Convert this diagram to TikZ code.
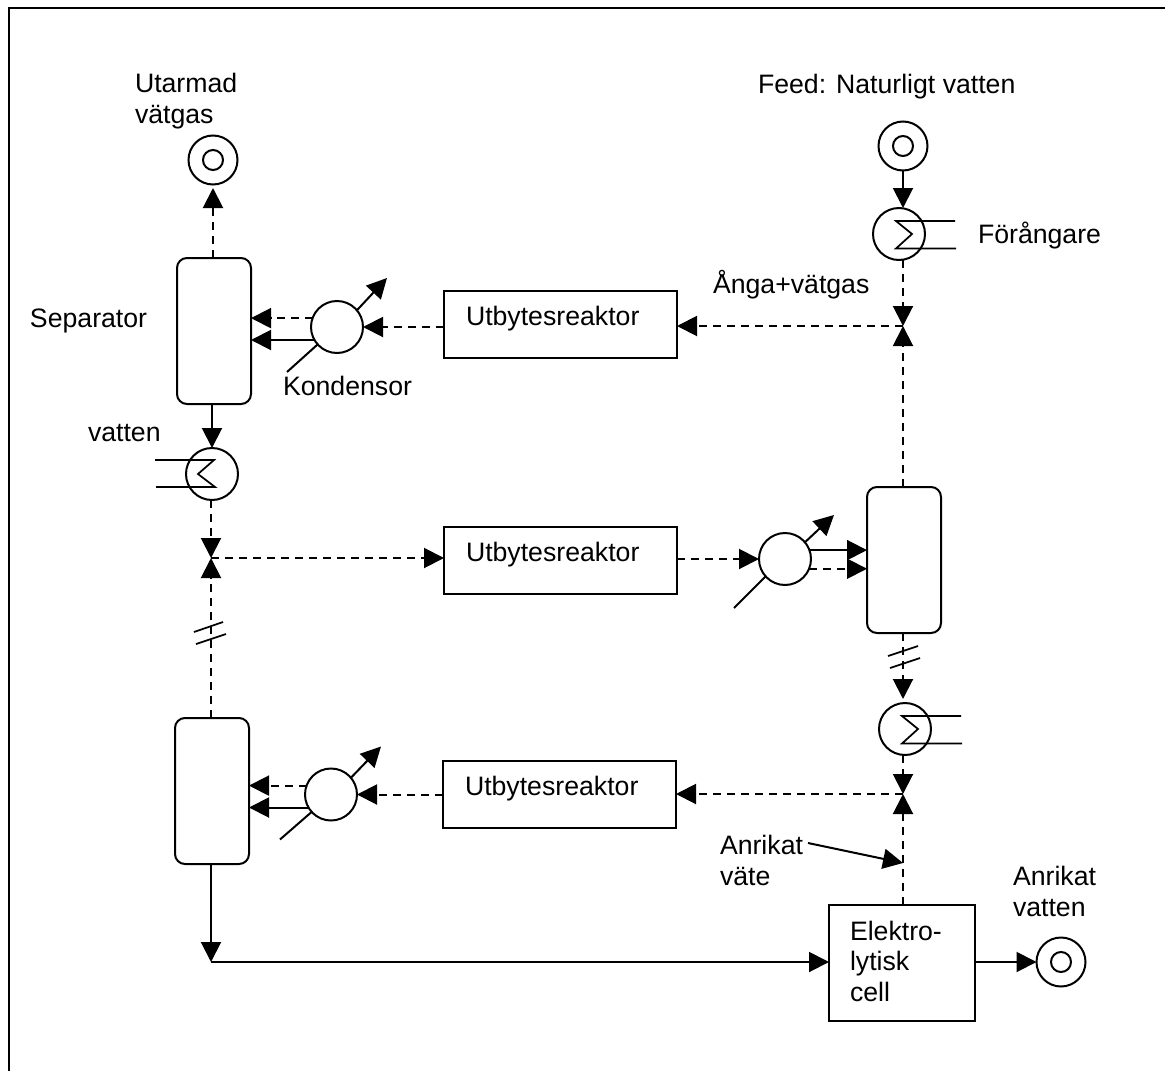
\documentclass[tikz,border=0pt]{standalone}
\usepackage{fontspec}
\setmainfont{Liberation Sans}
\usetikzlibrary{arrows.meta, positioning, calc}
\newcommand{\px}{0.75pt}

\begin{document}
\begin{tikzpicture}[x=0.75pt, y=-0.75pt, >={Triangle[length=15pt,width=15pt]}, line width=1.5pt,
    every node/.style={font=\fontsize{20}{23}\selectfont, outer sep=0pt, inner sep=0pt}]
    % Styles
    \tikzstyle{column} = [rectangle, draw, rounded corners=7.5pt, minimum width=74*\px, minimum height=146*\px]
    \tikzstyle{reactor} = [rectangle, draw, minimum width=233*\px, minimum height=67*\px, text width=189*\px, align=left, text height=34*\px, text depth=33*\px]
    \tikzstyle{cellbox} = [rectangle, draw, minimum width=146*\px, minimum height=116*\px, text width=104*\px, align=left, text height=35*\px, text depth=81*\px]
    \tikzstyle{hx} = [circle, draw, minimum size=52*\px]
    \tikzstyle{ring} = [circle, draw, minimum size=49*\px]
    \tikzstyle{ringcore} = [circle, draw, minimum size=20*\px]
    \tikzstyle{lbl} = [anchor=base west, align=left]
    \tikzstyle{dline} = [draw, ->, dash pattern=on 8*\px off 6*\px]
    \tikzstyle{line} = [draw, ->]
    \tikzstyle{tube} = [draw, line width=1.3pt]

    \useasboundingbox (0,0) rectangle (1165,1071);

    % Nodes
    \node [column] (sepA) at (214,331) {};
    \node [hx, right=60*\px of sepA, yshift=4*\px] (condA) {};
    \node [reactor, right=81*\px of condA, yshift=2.5*\px] (reactorA) {Utbytesreaktor};
    \node [ring, above=73.5*\px of sepA, xshift=-1*\px] (termOut) {};
    \node [ringcore] (termOutCore) at (termOut) {};
    \node [hx, below=44*\px of sepA, xshift=-2*\px] (hxOut) {};
    \node [reactor, below=169*\px of reactorA] (reactorB) {Utbytesreaktor};
    \node [hx, right=82*\px of reactorB, yshift=1.5*\px] (condB) {};
    \node [column, right=56*\px of condB, yshift=-1*\px] (sepB) {};
    \node [hx, above=227*\px of sepB, xshift=-5*\px] (hxFeed) {};
    \node [ring, above=37.5*\px of hxFeed, xshift=4*\px] (termFeed) {};
    \node [ringcore] (termFeedCore) at (termFeed) {};
    \node [hx, below=70*\px of sepB, xshift=1*\px] (hxLow) {};
    \node [column, below=218*\px of hxOut] (sepC) {};
    \node [hx, right=56*\px of sepC, yshift=-3.5*\px] (condC) {};
    \node [reactor, right=86*\px of condC] (reactorC) {Utbytesreaktor};
    \node [cellbox, below=150*\px of hxLow, xshift=-3*\px] (cell) {Elektro-\\lytisk\\cell};
    \node [ring, right=61.5*\px of cell, yshift=1*\px] (termRich) {};
    \node [ringcore] (termRichCore) at (termRich) {};

    % Labels
    \node [lbl] (utarmadLbl) at (135,123) {Utarmad\\vätgas};
    \node [lbl] (feedLbl) at (758,93) {Feed: Naturligt vatten};
    \node [lbl] (forangLbl) at (978,243) {Förångare};
    \node [lbl] (angaLbl) at (713,293) {Ånga+vätgas};
    \node [lbl] (sepLbl) at (30,327) {Separator};
    \node [lbl] (kondLbl) at (283,395) {Kondensor};
    \node [lbl] (vattenLbl) at (88,441) {vatten};
    \node [lbl] (vateLbl) at (720,885) {Anrikat\\väte};
    \node [lbl] (richLbl) at (1013,916) {Anrikat\\vatten};

    % Junctions
    \coordinate (juncA) at (903,326);
    \coordinate (juncB) at (211,558);
    \coordinate (juncC) at (903,794);
    \coordinate (cornerD) at (211,962);
    \coordinate (vateTail) at (808,843);
    \coordinate (vateTip) at (903,863);
    \coordinate (ventA) at ($(condA)+(50,-49)$);
    \coordinate (drainA) at ($(condA)+(-50,45)$);
    \coordinate (ventB) at ($(condB)+(49,-44)$);
    \coordinate (drainB) at ($(condB)+(-51,49)$);
    \coordinate (ventC) at ($(condC)+(50,-48)$);
    \coordinate (drainC) at ($(condC)+(-51,45)$);

    % Edges, top row
    \draw [dline] (sepA.north -| termOut) -- (termOut.south |- 0,188);
    \draw [dline] (juncA) -- (reactorA.east |- juncA);
    \draw [dline] (reactorA.west |- condA) -- (condA.east);
    \draw [dline] (condA.160) -- (sepA.east |- condA.160);
    \draw [line] (condA.210) -- (sepA.east |- condA.210);
    \draw [line] (condA.40) -- (ventA);
    \draw (condA.222) -- (drainA);
    \draw [line] (sepA.south -| hxOut.north) -- (hxOut.north);

    % Edges, right column
    \draw [line] (termFeed.south) -- (hxFeed.north -| termFeed);
    \draw [dline] (hxFeed.south -| juncA) -- (juncA);
    \draw [dline] (sepB.north -| juncA) -- (juncA);
    \draw [dline, shorten >=4*\px] (sepB.south -| juncC) -- (hxLow.north -| juncC);
    \draw [dline] (hxLow.south -| juncC) -- (juncC);
    \draw [dline] (cell.north -| juncC) -- (juncC);
    \draw [dline] (juncC) -- (reactorC.east |- juncC);
    \draw [line] (vateTail) -- (vateTip);

    % Edges, middle row
    \draw [dline] (hxOut.south -| juncB) -- (juncB);
    \draw [dline] (sepC.north -| juncB) -- (juncB);
    \draw [dline] (juncB) -- (reactorB.west |- juncB);
    \draw [dline] (reactorB.east |- condB) -- (condB.west);
    \draw [line] (condB.20) -- (sepB.west |- condB.20);
    \draw [dline] (condB.338) -- (sepB.west |- condB.338);
    \draw [line] (condB.40) -- (ventB);
    \draw (condB.222) -- (drainB);

    % Edges, bottom row
    \draw [dline] (reactorC.west) -- (condC.east);
    \draw [dline] (condC.160) -- (sepC.east |- condC.160);
    \draw [line] (condC.210) -- (sepC.east |- condC.210);
    \draw [line] (condC.40) -- (ventC);
    \draw (condC.222) -- (drainC);
    \draw [line] (sepC.south -| cornerD) -- (cornerD);
    \draw [line] (cornerD) -- (cell.west |- cornerD);
    \draw [line] (cell.east |- termRich) -- (termRich.west);

    % Tube bundles
    \draw [tube] ($(hxOut)+(-57,-14)$) -- ($(hxOut)+(2,-14)$) -- ($(hxOut)+(-14,0)$) -- ($(hxOut)+(3,13)$) -- ($(hxOut)+(-56,13)$);
    \foreach \hxname in {hxFeed, hxLow}
        \draw [tube] ($(\hxname)+(56,-13)$) -- ($(\hxname)+(-3,-13)$) -- ($(\hxname)+(13,0)$) -- ($(\hxname)+(-3,14.5)$) -- ($(\hxname)+(57,14.5)$);

    % Break marks
    \draw [tube] (888,656) -- (918,646);
    \draw [tube] (890,668) -- (920,658);
    \draw [tube] (194,632) -- (223,622);
    \draw [tube] (196,644) -- (226,634);

    % Frame
    \draw (9,1071) -- (9,8) -- (1165,8);
\end{tikzpicture}
\end{document}
